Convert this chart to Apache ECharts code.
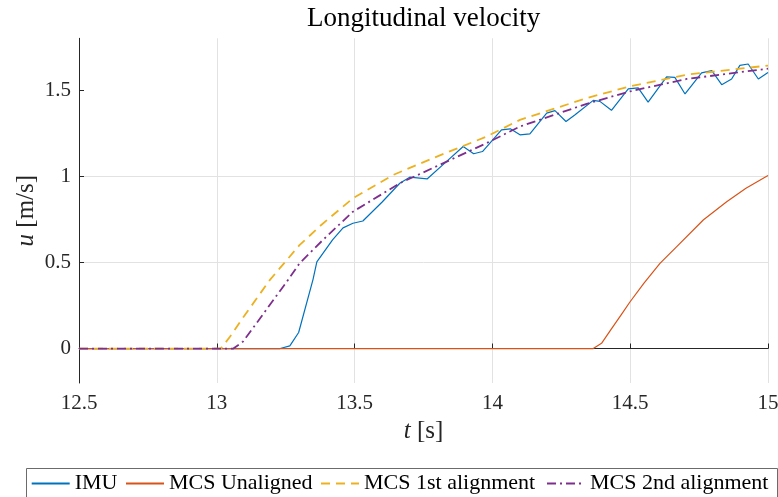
<!DOCTYPE html>
<html><head><meta charset="utf-8">
<script src="https://cdn.jsdelivr.net/npm/echarts@6/dist/echarts.min.js"></script>
<style>html,body{margin:0;padding:0;background:#fff}#c{width:778px;height:497px}</style>
</head><body><div id="c"></div>
<script>
// ---- data ----
const seriesNames = ['IMU', 'MCS Unaligned', 'MCS 1st alignment', 'MCS 2nd alignment'];
const xTicks = [12.5, 13, 13.5, 14, 14.5, 15];
const yTicks = [0, 0.5, 1, 1.5];

const imuT = [12.5, 13.23, 13.265, 13.297, 13.349, 13.363, 13.42, 13.458, 13.494, 13.53, 13.60, 13.664, 13.70, 13.763, 13.83, 13.894, 13.932, 13.964, 14.033, 14.065, 14.10, 14.136, 14.197, 14.227, 14.267, 14.30, 14.366, 14.39, 14.432, 14.493, 14.529, 14.565, 14.632, 14.662, 14.699, 14.759, 14.796, 14.832, 14.868, 14.898, 14.928, 14.965, 15.0];
const imuU = [0, 0, 0.015, 0.093, 0.40, 0.503, 0.63, 0.70, 0.727, 0.74, 0.85, 0.959, 0.994, 0.984, 1.08, 1.172, 1.13, 1.143, 1.269, 1.275, 1.24, 1.246, 1.366, 1.38, 1.317, 1.356, 1.44, 1.434, 1.382, 1.506, 1.512, 1.43, 1.576, 1.573, 1.477, 1.599, 1.612, 1.531, 1.564, 1.643, 1.651, 1.564, 1.602];

const unalT = [12.5, 14.366, 14.396, 14.43, 14.469, 14.499, 14.55, 14.608, 14.668, 14.765, 14.85, 14.92, 15.0];
const unalU = [0, 0, 0.03, 0.11, 0.20, 0.27, 0.38, 0.494, 0.59, 0.746, 0.852, 0.93, 1.004];

const al1T = [12.5, 13.015, 13.047, 13.10, 13.192, 13.30, 13.379, 13.494, 13.64, 13.785, 13.979, 14.10, 14.342, 14.499, 14.705, 15.0];
const al1U = [0, 0, 0.067, 0.19, 0.397, 0.60, 0.717, 0.872, 1.007, 1.105, 1.23, 1.327, 1.453, 1.521, 1.589, 1.642];

const al2T = [12.5, 13.06, 13.095, 13.15, 13.258, 13.30, 13.385, 13.494, 13.664, 13.809, 13.979, 14.10, 14.342, 14.499, 14.705, 15.0];
const al2U = [0, 0, 0.04, 0.16, 0.397, 0.494, 0.63, 0.794, 0.959, 1.066, 1.192, 1.288, 1.42, 1.492, 1.564, 1.624];

// ---- styles ----
const colors = ['#0072BD', '#D95319', '#EDB120', '#7E2F8E'];
const widths = [1.2, 1.2, 1.8, 1.8];
const dashes = ['solid', 'solid', [9, 6], [9, 4, 2, 4]];
const legendLeft = [30.7, 125, 320, 546];
const serif = 'Liberation Serif';
const axisColor = '#262626';
const gridColor = '#e2e2e2';

const zip = (t, u) => t.map((v, i) => [v, u[i]]);
const allData = [zip(imuT, imuU), zip(unalT, unalU), zip(al1T, al1U), zip(al2T, al2U)];
const tickRich = {n: {fontFamily: serif, fontSize: 21, color: axisColor}};
const tickFmt = v => '{n|' + (+v.toFixed(2)) + '}';

const chart = echarts.init(document.getElementById('c'), null, {renderer: 'canvas'});
chart.setOption({
  animation: false,
  backgroundColor: '#fff',
  textStyle: {fontFamily: serif},
  grid: {left: 79, right: 10, top: 38.3, bottom: 114, containLabel: false, outerBoundsMode: 'none'},
  xAxis: {
    type: 'value', min: 12.5, max: 15, interval: 0.5,
    name: '{i|t} [s]', nameLocation: 'middle', nameGap: 36, nameMoveOverlap: false,
    nameTextStyle: {fontFamily: serif, fontSize: 25, color: axisColor,
      rich: {i: {fontFamily: serif, fontStyle: 'italic', fontSize: 25, color: axisColor}}},
    axisLine: {show: true, lineStyle: {color: axisColor, width: 1}},
    axisTick: {show: true, inside: true, length: 5, lineStyle: {color: axisColor}},
    axisLabel: {fontFamily: serif, fontSize: 21, color: axisColor, margin: 10,
      showMinLabel: true, showMaxLabel: true, customValues: xTicks,
      formatter: tickFmt, rich: tickRich},
    splitLine: {show: true, lineStyle: {color: gridColor, width: 1}}
  },
  yAxis: {
    type: 'value', min: -0.2, max: 1.8,
    name: '{i|u} [m/s]', nameLocation: 'middle', nameGap: 40, nameRotate: 90, nameMoveOverlap: false,
    nameTextStyle: {fontFamily: serif, fontSize: 25, color: axisColor,
      rich: {i: {fontFamily: serif, fontStyle: 'italic', fontSize: 25, color: axisColor}}},
    axisLine: {show: true, lineStyle: {color: axisColor, width: 1}},
    axisTick: {show: true, inside: true, length: 5, lineStyle: {color: axisColor}, customValues: yTicks},
    axisLabel: {fontFamily: serif, fontSize: 21, color: axisColor, margin: 8, customValues: yTicks,
      formatter: tickFmt, rich: tickRich},
    splitLine: {show: true, showMinLine: false, showMaxLine: false, lineStyle: {color: gridColor, width: 1}}
  },
  legend: seriesNames.map((n, i) => ({
    data: [n], left: legendLeft[i], top: 472.5, padding: 0,
    itemWidth: 38, itemHeight: 14, itemGap: 0, selectedMode: false,
    itemStyle: {opacity: 0},
    textStyle: {fontFamily: serif, fontSize: 22, color: '#000'}
  })),
  graphic: [
    {type: 'text', x: 423.6, y: 19, silent: true,
      style: {text: 'Longitudinal velocity', font: '27px "Liberation Serif"', fill: '#000', align: 'center', verticalAlign: 'middle'}},
    {type: 'rect', silent: true, shape: {x: 26.5, y: 468.5, width: 751, height: 40},
      style: {fill: 'none', stroke: '#6b6b6b', lineWidth: 1}}
  ],
  series: seriesNames.map((n, i) => ({
    name: n, type: 'line', data: allData[i], symbol: 'none', showSymbol: false,
    clip: true, smooth: false,
    lineStyle: {color: colors[i], width: widths[i], type: dashes[i]},
    itemStyle: {color: colors[i]}, z: 2 + i
  }))
});
</script>
</body></html>
